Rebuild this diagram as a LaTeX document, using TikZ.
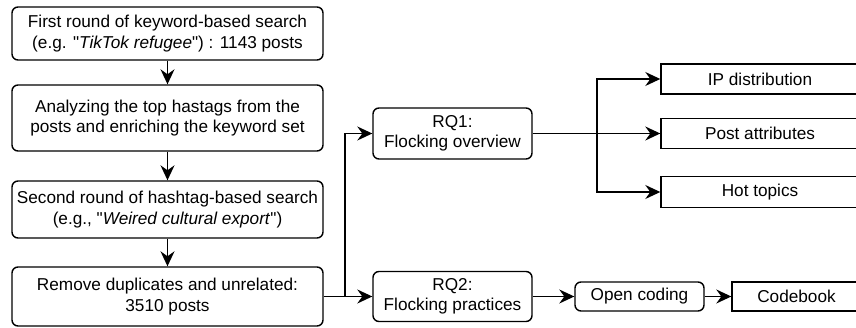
\documentclass[tikz,border=0pt]{standalone}
\usepackage{fontspec}
\setmainfont{Liberation Sans}[Ligatures=TeXOff]
\usetikzlibrary{arrows.meta}
\begin{document}
\begin{tikzpicture}[x=1pt,y=-1pt,
  every node/.style={font=\fontsize{17.2}{20.5}\selectfont, align=center, inner sep=0pt, line width=1.4pt},
  rbox/.style={draw, rounded corners=6pt},
  sbox/.style={draw},
  arr/.style={line width=1.4pt, -{Stealth[length=15pt,width=14pt,inset=5pt]}},
  ln/.style={line width=1.4pt}]
\useasboundingbox (0,0) rectangle (856,328);
\fill[white] (0,0) rectangle (856,328);
\clip (0,0) rectangle (856,328);
% left column
\node[rbox, minimum width=311pt, minimum height=53pt] (b1) at (167.5,33.5)
  {First round of keyword-based search\\(e.g. "\textit{TikTok refugee}") : 1143 posts};
\node[rbox, minimum width=311pt, minimum height=66pt] (b2) at (167.5,118)
  {Analyzing the top hastags from the\\posts and enriching the keyword set};
\node[rbox, minimum width=311pt, minimum height=57pt] (b3) at (167.5,209.5)
  {Second round of hashtag-based search\\(e.g., "\textit{Weired cultural export}")};
\node[rbox, minimum width=311pt, minimum height=59pt] (b4) at (167.5,296.5)
  {Remove duplicates and unrelated:\\3510 posts};
% RQ boxes
\node[rbox, minimum width=159pt, minimum height=51pt] (rq1) at (452.5,133.5)
  {RQ1:\\Flocking overview};
\node[rbox, minimum width=159pt, minimum height=50pt] (rq2) at (452.5,296.5)
  {RQ2:\\Flocking practices};
% right boxes
\node[sbox, minimum width=198pt, minimum height=30pt] (ip) at (760,79) {IP distribution};
\node[sbox, minimum width=198pt, minimum height=30pt] (pa) at (760,133.5) {Post attributes};
\node[sbox, minimum width=198pt, minimum height=31pt] (ht) at (760,192) {Hot topics};
\node[rbox, minimum width=129pt, minimum height=29pt] (oc) at (639.5,296.5) {Open coding};
\node[sbox, minimum width=129pt, minimum height=29pt] (cb) at (796.5,296.5) {Codebook};
% connectors
\draw[arr] (b1) -- (b2);
\draw[arr] (b2) -- (b3);
\draw[arr] (b3) -- (b4);
\coordinate (j) at (345,296.5);
\draw[arr] (b4.east) -- (rq2.west);
\draw[arr] (j) |- (rq1.west);
\coordinate (br) at (597,133.5);
\draw[arr] (rq1.east) -- (pa.west);
\draw[arr] (br) |- (ip.west);
\draw[arr] (br) |- (ht.west);
\draw[arr] (rq2.east) -- (oc.west);
\draw[arr] (oc.east) -- (cb.west);
\end{tikzpicture}
\end{document}
